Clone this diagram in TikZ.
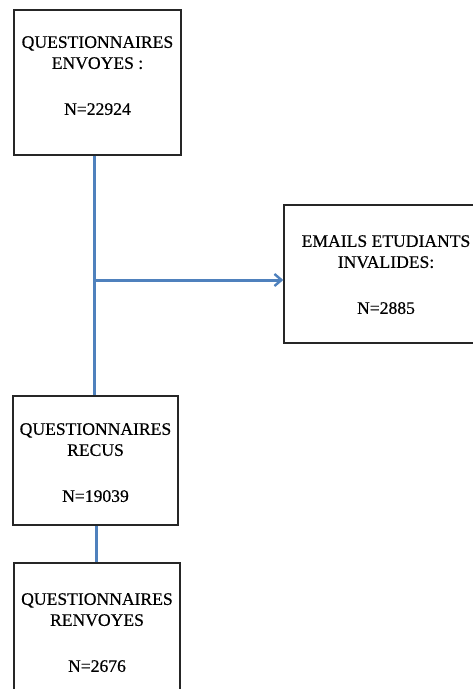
\documentclass[tikz,border=0pt]{standalone}
\usepackage{fontspec}
\setmainfont{Liberation Serif}[FakeBold=0.5]
\usetikzlibrary{arrows.meta}
\definecolor{linkblue}{RGB}{79,129,189}
\begin{document}
\begin{tikzpicture}[x=1pt,y=-1pt,
  box/.style={draw=black!85,line width=1.4pt,inner sep=0pt,fill=white},
  txt/.style={align=center,inner sep=0pt,anchor=north,font=\fontsize{17.6}{21}\selectfont},
  link/.style={draw=linkblue,line width=3pt}]
\useasboundingbox (0,0) rectangle (473,689);
\clip (0,0) rectangle (473,689);
\node[box,minimum width=167pt,minimum height=145pt] (q1) at (97.5,82.5) {};
\node[box,minimum width=204pt,minimum height=138pt] (q2) at (386,274) {};
\node[box,minimum width=165pt,minimum height=129pt] (q3) at (95.5,460.5) {};
\node[box,minimum width=166pt,minimum height=145pt] (q4) at (97,635.5) {};
\node[txt] (t1) at (97.5,36) {QUESTIONNAIRES\\ENVOYES :\\[25pt]N=22924};
\node[txt] (t2) at (386,235) {EMAILS ETUDIANTS\\INVALIDES:\\[25pt]N=2885};
\node[txt] (t3) at (95.5,423) {QUESTIONNAIRES\\RECUS\\[25pt]N=19039};
\node[txt] (t4) at (97,593) {QUESTIONNAIRES\\RENVOYES\\[25pt]N=2676};
\coordinate (j) at (94,280);
\coordinate (k) at (96,544);
\draw[link] (j |- q1.south) -- (j |- q3.north);
\draw[link,-{Straight Barb[length=7pt,width=12pt,line width=2.4pt]}] (j) -- (q2.west |- j);
\draw[link] (k |- q3.south) -- (k |- q4.north);
\end{tikzpicture}
\end{document}
